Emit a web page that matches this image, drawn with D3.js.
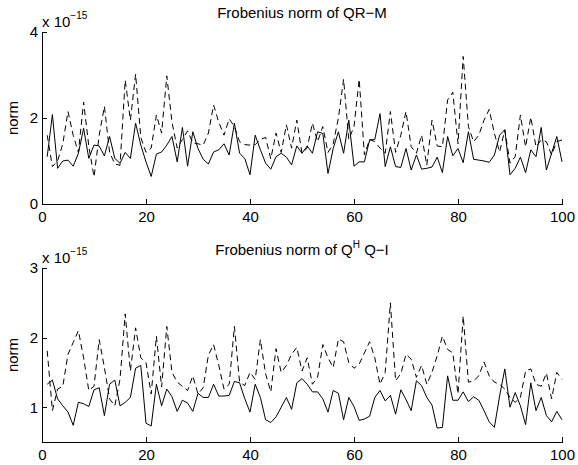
<!DOCTYPE html>
<html>
<head>
<meta charset="utf-8">
<script src="https://cdn.jsdelivr.net/npm/d3@7"></script>
<style>
  body { margin: 0; background: #fff; }
  svg text { font-family: "Liberation Sans", Arial, Helvetica, sans-serif; fill: #000; }
  .axis path, .axis line { stroke: #000; shape-rendering: crispEdges; }
</style>
</head>
<body>
<div class="graph"></div>
<script>
const w = 578;
const h = 465;

// run index 1..100 on the x axis
const xTicks = [0, 20, 40, 60, 80, 100];

// top panel: Frobenius norm of QR-M (units of 1e-15)
const qrTicks = [0, 2, 4];
const qrSolid = [1.1, 2.08, 0.83, 1.0, 1.02, 0.88, 1.18, 1.76, 1.06, 1.37,
  1.35, 1.12, 1.57, 1.06, 0.95, 1.2, 1.06, 1.88, 1.37, 0.98,
  0.64, 1.16, 1.21, 1.37, 1.57, 0.98, 1.78, 0.88, 1.68, 1.29,
  1.04, 0.93, 1.21, 1.26, 1.4, 1.14, 1.88, 1.18, 1.06, 0.68,
  1.6, 1.26, 0.95, 0.81, 1.1, 1.18, 1.09, 0.91, 1.35, 1.18,
  1.35, 1.18, 1.68, 1.64, 0.71, 1.29, 1.68, 1.18, 1.95, 0.88,
  0.98, 0.98, 1.49, 1.5, 2.1, 0.87, 1.33, 0.87, 0.85, 1.29,
  0.79, 1.14, 0.81, 0.83, 0.86, 1.09, 0.73, 1.57, 1.12, 1.29,
  0.96, 1.68, 1.04, 1.02, 1.0, 0.97, 1.14, 1.6, 1.73, 0.68,
  0.83, 1.09, 0.73, 1.26, 1.1, 1.78, 0.79, 1.18, 1.57, 0.98];
const qrDashed = [1.6, 0.87, 1.0, 1.4, 2.15, 1.6, 1.2, 2.37, 1.35, 0.63,
  1.6, 2.27, 1.2, 0.93, 0.9, 2.88, 1.95, 3.02, 1.55, 1.2,
  1.3, 2.07, 1.65, 2.98, 1.9, 1.3, 1.5, 1.7, 1.42, 1.4,
  1.37, 1.65, 2.3, 1.9, 1.6, 1.98, 1.8, 1.45, 1.38, 1.37,
  1.38, 1.5, 1.55, 1.05, 1.65, 1.2, 1.84, 1.3, 1.95, 1.18,
  1.3, 1.88, 1.45, 1.8, 1.2, 1.4, 2.0, 2.9, 1.5, 1.8,
  2.9, 1.14, 1.5, 1.45, 1.3, 1.18, 2.15, 1.2, 1.6, 2.15,
  1.33, 1.18, 1.6, 0.9, 1.95, 1.35, 1.33, 2.42, 2.6, 1.4,
  3.43, 1.8, 1.45, 1.6, 1.95, 2.2, 1.64, 1.21, 1.72, 0.95,
  1.1, 2.07, 1.33, 2.02, 1.33, 1.49, 1.45, 1.14, 1.45, 1.49];

// bottom panel: Frobenius norm of Q^H Q-I (units of 1e-15)
const orthTicks = [1, 2, 3];
const orthSolid = [1.33, 1.39, 1.12, 1.02, 0.93, 0.74, 1.07, 1.05, 1.01, 1.25,
  1.28, 0.88, 1.33, 1.39, 1.02, 1.07, 1.14, 1.56, 1.6, 0.77,
  0.73, 1.33, 1.02, 1.26, 1.15, 0.94, 1.1, 1.06, 0.94, 1.2,
  1.14, 1.14, 1.33, 1.16, 1.16, 1.17, 1.37, 1.35, 1.12, 0.93,
  1.33, 1.14, 0.82, 0.78, 0.86, 1.0, 1.14, 0.97, 1.35, 1.41,
  1.33, 1.22, 1.22, 1.12, 0.93, 1.24, 1.2, 0.82, 1.14, 1.01,
  0.81, 0.83, 0.87, 1.14, 1.24, 1.09, 1.17, 0.9, 1.25, 1.11,
  0.95, 1.38, 1.31, 1.14, 1.03, 0.7, 0.71, 1.45, 1.1, 1.1,
  1.22, 1.08, 1.15, 1.1, 0.95, 0.79, 0.71, 1.16, 1.55, 1.0,
  1.21, 1.02, 0.75, 1.35, 0.95, 1.14, 0.88, 0.79, 0.94, 0.82];
const orthDashed = [1.81, 0.95, 1.26, 1.3, 1.76, 1.93, 2.1, 1.71, 1.24, 1.3,
  1.97, 1.57, 1.12, 1.02, 1.4, 2.34, 1.52, 2.14, 1.71, 1.64,
  1.19, 2.02, 1.29, 2.16, 1.5, 1.36, 1.3, 1.24, 1.45, 1.19,
  1.28, 1.75, 1.9, 1.6, 1.26, 1.33, 2.16, 1.36, 1.31, 1.5,
  1.4, 1.97, 1.48, 1.22, 1.84, 1.5, 1.6, 1.76, 1.86, 1.52,
  1.71, 1.33, 1.43, 1.9, 1.71, 1.57, 1.98, 1.94, 1.64, 1.56,
  1.62, 1.78, 1.94, 1.71, 1.33, 1.5, 2.5, 1.38, 1.48, 1.76,
  1.69, 1.43, 1.6, 1.33, 1.5, 1.74, 2.02, 1.83, 1.78, 1.19,
  2.31, 1.36, 1.38, 1.45, 1.65, 1.45, 1.36, 1.33, 1.26, 1.14,
  1.07, 1.14, 1.52, 1.55, 1.33, 1.3, 1.49, 1.12, 1.5, 1.4];

const canvas = d3.select(".graph")
  .append("svg")
  .attr("width", w)
  .attr("height", h);

const xScale = d3.scaleLinear().domain([0, 100]).range([42, 562]);

function panel(opts) {
  const yScale = d3.scaleLinear().domain(opts.domain).range([opts.bottom, opts.top]);

  // x-axis (ticks point inward like matlab)
  canvas.append("g")
    .attr("class", "axis")
    .attr("transform", `translate(0, ${opts.bottom})`)
    .call(d3.axisBottom(xScale).tickValues(xTicks).tickFormat(d3.format("d"))
      .tickSizeInner(-5).tickSizeOuter(0).tickPadding(7))
    .call(g => g.selectAll("text").attr("font-size", 15));

  // y-axis
  canvas.append("g")
    .attr("class", "axis")
    .attr("transform", `translate(${xScale(0)}, 0)`)
    .call(d3.axisLeft(yScale).tickValues(opts.ticks).tickFormat(d3.format("d"))
      .tickSizeInner(-5).tickSizeOuter(0).tickPadding(4))
    .call(g => g.selectAll("text").attr("font-size", 15));

  const line = d3.line()
    .x((d, i) => xScale(i + 1))
    .y(d => yScale(d));

  canvas.append("path")
    .datum(opts.dashed)
    .attr("d", line)
    .attr("fill", "none")
    .attr("stroke", "#000")
    .attr("stroke-width", 1)
    .attr("stroke-dasharray", "6,4");

  canvas.append("path")
    .datum(opts.solid)
    .attr("d", line)
    .attr("fill", "none")
    .attr("stroke", "#000")
    .attr("stroke-width", 1);

  // exponent label
  const ex = canvas.append("text")
    .attr("x", xScale(0))
    .attr("y", opts.top - 5)
    .attr("font-size", 15);
  ex.append("tspan").text("x 10");
  ex.append("tspan").attr("dy", -8).attr("font-size", 10).text("\u221215");

  // y label
  canvas.append("text")
    .attr("transform", `translate(18, ${(opts.top + opts.bottom) / 2}) rotate(-90)`)
    .attr("text-anchor", "middle")
    .attr("font-size", 15)
    .text("norm");

  return canvas.append("text")
    .attr("x", (xScale(0) + xScale(100)) / 2)
    .attr("y", opts.titleY)
    .attr("text-anchor", "middle")
    .attr("font-size", 15);
}

const t1 = panel({domain: [0, 4], ticks: qrTicks, top: 32, bottom: 204, titleY: 18,
  solid: qrSolid, dashed: qrDashed});
t1.text("Frobenius norm of QR\u2212M");

const t2 = panel({domain: [0.5, 3], ticks: orthTicks, top: 268, bottom: 442, titleY: 255,
  solid: orthSolid, dashed: orthDashed});
t2.append("tspan").text("Frobenius norm of Q");
t2.append("tspan").attr("dy", -7).attr("font-size", 10).text("H");
t2.append("tspan").attr("dy", 7).text(" Q\u2212I");
</script>
</body>
</html>
